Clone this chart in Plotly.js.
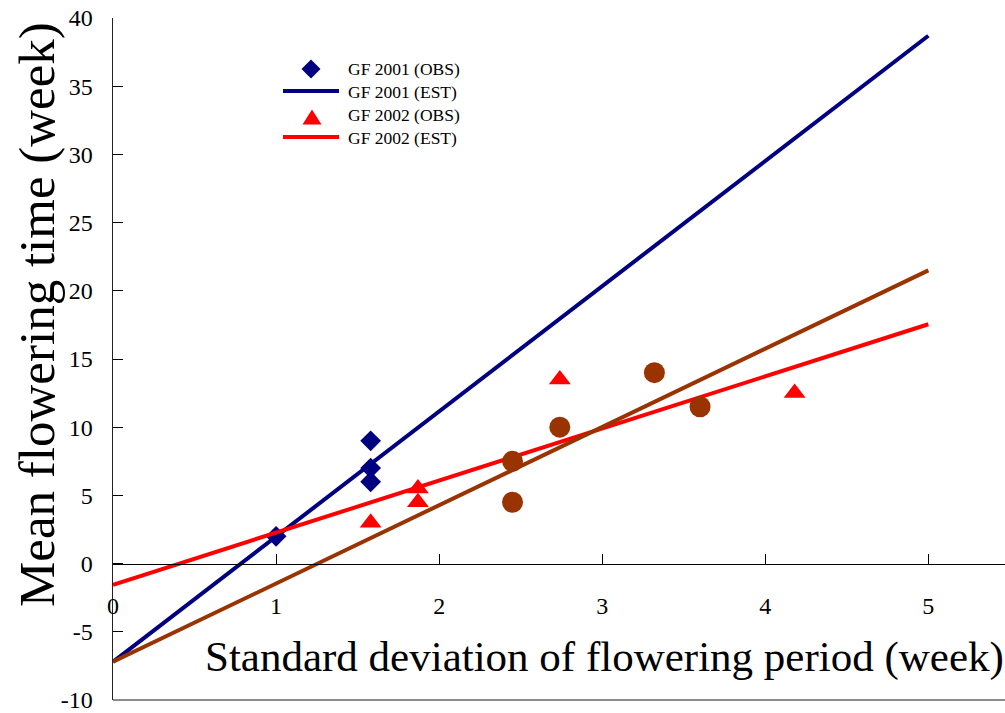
<!DOCTYPE html>
<html>
<head>
<meta charset="utf-8">
<script src="https://cdn.plot.ly/plotly-3.0.1.min.js"></script>
<style>html,body{margin:0;padding:0;background:#fff;}#chart{width:1005px;height:713px;}</style>
</head>
<body>
<div id="chart"></div>
<script>
// Observed data
const obs2001X = [1.0, 1.58, 1.58, 1.58];
const obs2001Y = [2.0, 9.0, 7.0, 6.0];
const obs2002X = [1.58, 1.87, 1.87, 2.74, 4.18];
const obs2002Y = [3.0, 5.5, 4.5, 13.5, 12.5];
const obs2003X = [2.45, 2.45, 2.74, 3.32, 3.6];
const obs2003Y = [7.5, 4.5, 10.0, 14.0, 11.5];
// Estimated regression lines (endpoints)
const est2001X = [0, 5];
const est2001Y = [-7.2, 38.7];
const est2002X = [0, 5];
const est2002Y = [-1.55, 17.55];
const est2003X = [0, 5];
const est2003Y = [-7.2, 21.5];
// Tick labels
const xTicks = [0, 1, 2, 3, 4, 5];
const yTicks = [-10, -5, 0, 5, 10, 15, 20, 25, 30, 35, 40];
// Legend labels (the fifth entry is cut off in the original)
const legendNames = ['GF 2001 (OBS)', 'GF 2001 (EST)', 'GF 2002 (OBS)', 'GF 2002 (EST)'];

const NAVY = '#000080', RED = '#FF0000', BROWN = '#993300';
const FONT = 'Liberation Serif';

const traces = [
  {x: obs2001X, y: obs2001Y, mode: 'markers', name: 'GF 2001 (OBS)',
   marker: {symbol: 'diamond', size: 16, color: NAVY}},
  {x: est2001X, y: est2001Y, mode: 'lines', name: 'GF 2001 (EST)',
   line: {color: NAVY, width: 4}},
  {x: obs2002X, y: obs2002Y, mode: 'markers', name: 'GF 2002 (OBS)',
   marker: {symbol: 'triangle-up', size: 19, color: RED}},
  {x: est2002X, y: est2002Y, mode: 'lines', name: 'GF 2002 (EST)',
   line: {color: RED, width: 4}},
  {x: obs2003X, y: obs2003Y, mode: 'markers', name: 'GF 2003 (OBS)',
   marker: {symbol: 'circle', size: 21, color: BROWN}},
  {x: est2003X, y: est2003Y, mode: 'lines', name: 'GF 2003 (EST)',
   line: {color: BROWN, width: 4}}
];

// pixel -> paper helpers for the hand-built legend
const L = 113, T = 18, W = 892, H = 682;
const px = v => (v - L) / W;
const py = v => (T + H - v) / H;

const textX = px(347);
const textYs = [69, 92, 115, 138];
const annotations = legendNames.map((n, i) => ({
  text: n, xref: 'paper', yref: 'paper', x: textX, y: py(textYs[i]),
  xanchor: 'left', yanchor: 'middle', showarrow: false, borderpad: 0,
  font: {family: FONT, size: 17.5, color: '#000'}
}));
annotations.push(
  {text: 'Mean flowering time (week)', xref: 'paper', yref: 'paper',
   x: px(37), y: py(315), xanchor: 'center', yanchor: 'middle', textangle: -90,
   showarrow: false, font: {family: FONT, size: 51, color: '#000'}},
  {text: 'Standard deviation of flowering period (week)', xref: 'paper', yref: 'paper',
   x: px(604), y: py(657), xanchor: 'center', yanchor: 'middle',
   showarrow: false, font: {family: FONT, size: 43, color: '#000'}}
);

function diamondPath(cx, cy, r) {
  return `M${px(cx - r)},${py(cy)} L${px(cx)},${py(cy - r)} L${px(cx + r)},${py(cy)} L${px(cx)},${py(cy + r)} Z`;
}
function trianglePath(cx, cy, hw, hh) {
  return `M${px(cx - hw)},${py(cy + hh)} L${px(cx)},${py(cy - hh)} L${px(cx + hw)},${py(cy + hh)} Z`;
}

const shapes = [
  {type: 'path', xref: 'paper', yref: 'paper', path: diamondPath(311, 69, 9.5),
   fillcolor: NAVY, line: {width: 0}},
  {type: 'line', xref: 'paper', yref: 'paper', x0: px(283), x1: px(339), y0: py(91), y1: py(91),
   line: {color: NAVY, width: 4}},
  {type: 'path', xref: 'paper', yref: 'paper', path: trianglePath(312, 117, 9.5, 7.5),
   fillcolor: RED, line: {width: 0}},
  {type: 'line', xref: 'paper', yref: 'paper', x0: px(283), x1: px(339), y0: py(137), y1: py(137),
   line: {color: RED, width: 4}},
  // grey bottom border of the plot area
  {type: 'line', xref: 'paper', yref: 'paper', x0: 0, x1: 1, y0: 0, y1: 0,
   line: {color: '#8c8c8c', width: 2}}
];

const layout = {
  width: 1005, height: 713,
  margin: {l: L, r: 0, t: T, b: 713 - T - H},
  paper_bgcolor: '#fff', plot_bgcolor: '#fff',
  font: {family: FONT, color: '#000', size: 24},
  showlegend: false,
  xaxis: {
    range: [0, 5.47], tickvals: xTicks, ticktext: xTicks.map(String),
    showgrid: false, zeroline: false, showline: true, linecolor: '#000', linewidth: 1.5,
    ticks: 'inside', ticklen: 10, tickwidth: 1, tickcolor: '#000',
    anchor: 'free', position: 10 / 50, ticklabelstandoff: 20, ticklabeloverflow: 'allow',
    tickfont: {family: FONT, size: 24, color: '#000'}
  },
  yaxis: {
    range: [-10, 40], tickvals: yTicks, ticktext: yTicks.map(String),
    showgrid: false, zeroline: false, showline: true, linecolor: '#222', linewidth: 1.5,
    ticks: 'inside', ticklen: 10, tickwidth: 1, tickcolor: '#000', ticklabelstandoff: 14,
    ticklabeloverflow: 'allow',
    tickfont: {family: FONT, size: 24, color: '#000'}
  },
  annotations: annotations,
  shapes: shapes
};

Plotly.newPlot('chart', traces, layout, {displayModeBar: false, staticPlot: true});
</script>
</body>
</html>
